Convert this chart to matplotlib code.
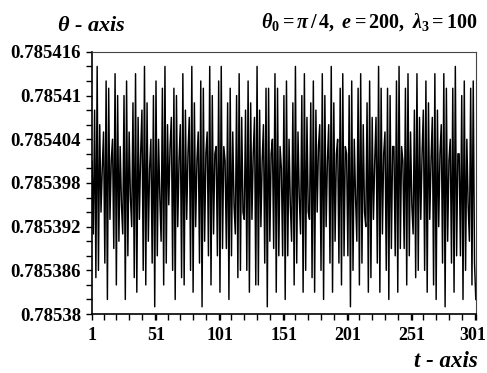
import numpy as np
import matplotlib
matplotlib.use("Agg")
import matplotlib.pyplot as plt
from matplotlib.ticker import FixedLocator, MultipleLocator
from matplotlib.transforms import ScaledTranslation

plt.rcParams['font.family'] = ['Liberation Serif', 'DejaVu Serif']
plt.rcParams['font.weight'] = 'bold'
plt.rcParams['mathtext.fontset'] = 'custom'
plt.rcParams['mathtext.rm'] = 'Liberation Serif:bold'
plt.rcParams['mathtext.it'] = 'Liberation Serif:bold:italic'
plt.rcParams['mathtext.bf'] = 'Liberation Serif:bold'

THETA_REF = 0.785398   # pi/4, rounded

# theta(t) - THETA_REF, in units of 1e-6, for t = 1 .. 301
dtheta = [
    3, -7, 10, -13, 16, -12, 8, -4, 2, 7,
    -11, 14, -16, 13, -5, 3, 6, -9, 15, -14,
    12, -8, 5, -3, -7, 12, -16, 14, -10, 7,
    -2, -6, 11, -13, 15, -15, 9, -5, 4, 10,
    -12, 16, -14, 11, -8, 2, 6, -11, 12, -17,
    14, -10, 6, -2, -8, 13, -14, 16, -11, 8,
    -3, 5, 9, -12, 13, -16, 12, -6, 3, 8,
    -13, 15, -14, 10, -5, 4, 9, -12, 16, -15,
    11, -6, 3, 7, -11, 14, -17, 13, -8, 4,
    7, -10, 16, -14, 12, -7, 4, 5, -10, 14,
    -15, 16, -9, 5, 3, -9, 11, -16, 13, -10,
    7, -3, -7, 12, -13, 15, -12, 9, -4, -5,
    10, -12, 14, -15, 11, -5, 4, 9, -14, 16,
    -14, 10, -6, 3, 8, -11, 13, -17, 13, -8,
    4, 6, -9, 15, -15, 13, -10, 5, 2, -10,
    12, -16, 14, -10, 6, -3, -8, 11, -14, 16,
    -11, 7, -2, -7, 12, -15, 15, -12, 9, -4,
    -5, 11, -13, 14, -15, 10, -4, 5, 8, -12,
    15, -16, 12, -6, 3, 8, -11, 16, -15, 11,
    -8, 4, 6, -11, 13, -14, 15, -10, 5, 4,
    -10, 12, -17, 14, -12, 6, -2, -8, 13, -14,
    15, -11, 8, -4, -6, 11, -15, 14, -13, 9,
    -5, 3, 9, -11, 16, -15, 13, -7, 4, 7,
    -12, 13, -16, 12, -9, 5, 5, -10, 14, -15,
    16, -9, 5, 3, -9, 13, -14, 15, -10, 7,
    -3, -7, 10, -13, 15, -12, 9, -5, 4, 10,
    -12, 14, -15, 11, -5, 3, 9, -14, 15, -16,
    10, -6, 4, 8, -11, 15, -17, 13, -8, 3,
    6, -11, 13, -15, 16, -10, 4, 4, -10, 12,
    -16, 14, -12, 6, -3, -8, 13, -14, 14, -11,
    -16,
]

t = np.arange(1, len(dtheta) + 1)
theta = THETA_REF + np.array(dtheta) * 1e-6

y_ticks = [0.78538, 0.785386, 0.785392, 0.785398, 0.785404, 0.78541, 0.785416]
y_labels = ['0.78538', '0.785386', '0.785392', '0.785398', '0.785404', '0.78541', '0.785416']
x_ticks = [1, 51, 101, 151, 201, 251, 301]

fig = plt.figure(figsize=(4.87, 3.73), dpi=100)
ax = fig.add_axes([0.189, 0.158, 0.788, 0.703])

ax.plot(t, theta, color='black', lw=1.05)

ax.set_xlim(1, 301)
ax.set_ylim(0.78538, 0.785416)

ax.xaxis.set_major_locator(FixedLocator(x_ticks))
ax.xaxis.set_minor_locator(MultipleLocator(10))
ax.set_yticks(y_ticks)
ax.set_yticklabels(y_labels)
ax.yaxis.set_minor_locator(MultipleLocator(0.000002))

ax.tick_params(which='both', direction='out', length=4, width=1, top=False, right=False)
ax.tick_params(axis='y', labelsize=13.5, pad=4)
ax.tick_params(axis='x', labelsize=13, pad=5)
for lab in ax.get_xticklabels() + ax.get_yticklabels():
    lab.set_fontweight('bold')

# keep the last t label inside the figure
last = ax.get_xticklabels()[-1]
last.set_transform(last.get_transform() + ScaledTranslation(-0.03, 0, fig.dpi_scale_trans))

for side in ['top', 'right']:
    ax.spines[side].set_linewidth(0.8)
    ax.spines[side].set_color('#444444')
for side in ['left', 'bottom']:
    ax.spines[side].set_linewidth(1.2)

fig.text(0.118, 0.93, r'$\theta$ - axis', fontsize=16, fontweight='bold', style='italic',
         ha='left', va='center')
fig.text(0.982, 0.94, r'$\theta_0 = \pi\,/\,4,\ e = 200,\ \lambda_3 = 100$', fontsize=14.5,
         ha='right', va='center')
fig.text(0.982, 0.016, 't - axis', fontsize=16.5, fontweight='bold', style='italic',
         ha='right', va='baseline')

fig.savefig('out.png', dpi=100)
